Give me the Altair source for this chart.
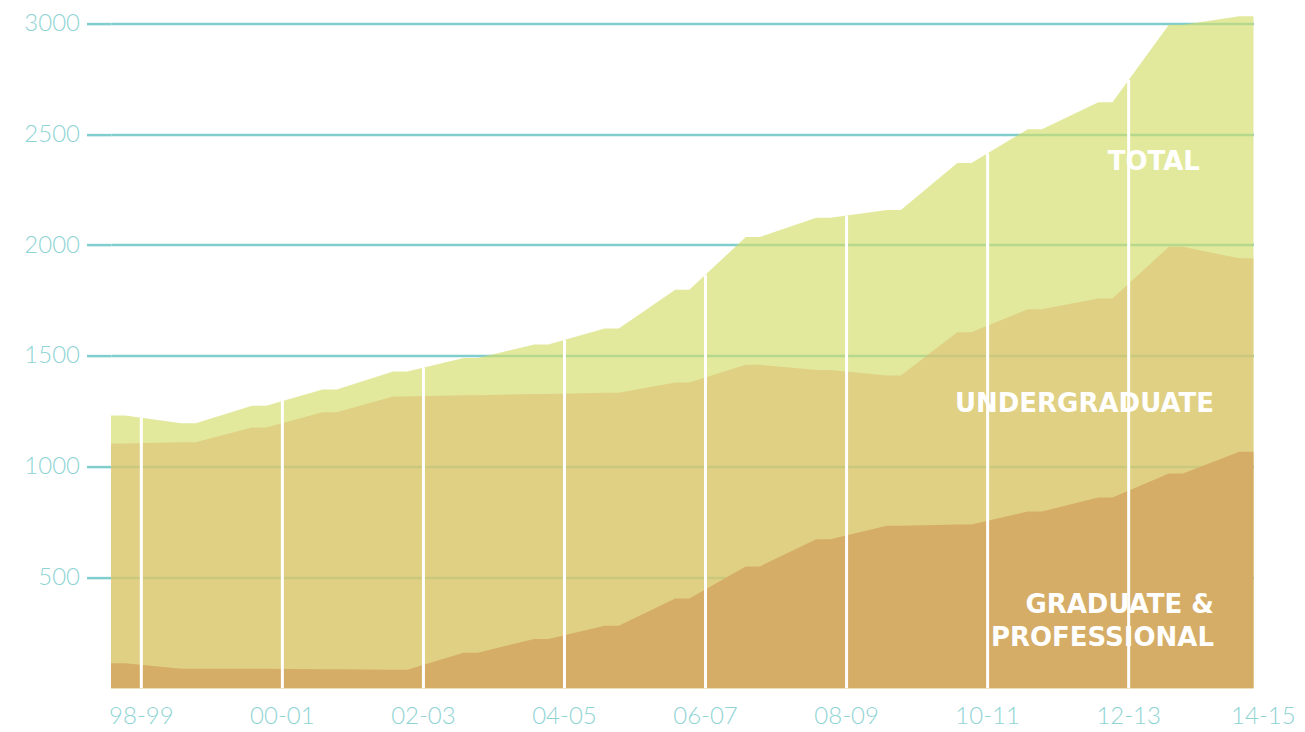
import altair as alt
import numpy as np
import pandas as pd

# ---- data ----
years = ["98-99", "99-00", "00-01", "01-02", "02-03", "03-04", "04-05", "05-06",
         "06-07", "07-08", "08-09", "09-10", "10-11", "11-12", "12-13", "13-14", "14-15"]
total = [1231, 1196, 1275, 1348, 1430, 1490, 1551, 1624, 1798,
         2036, 2123, 2158, 2370, 2523, 2645, 2994, 3032]
undergrad = [1105, 1110, 1177, 1246, 1317, 1322, 1328, 1334, 1380,
             1460, 1436, 1412, 1607, 1710, 1759, 1992, 1940]
grad = [113, 88, 88, 86, 84, 160, 223, 282, 405,
        550, 672, 733, 739, 798, 861, 969, 1067]
y_ticks = [500, 1000, 1500, 2000, 2500, 3000]
annotations = ["TOTAL", "UNDERGRADUATE", "GRADUATE &", "PROFESSIONAL"]
annotation_x = [15.34, 15.54, 15.54, 15.54]
annotation_y = [2377, 1285, 378, 229]

# ---- style ----
PLATEAU = 0.1        # half width of the flat segment drawn for each year
LABEL_OFFSET = 0.33  # year labels / white separators sit a bit right of each year
W, H = 1142.5, 673.7
TEAL = "#80CDCD"
LABEL_TEAL = "#8FD4D4"
X_MIN, X_MAX = -PLATEAU, len(years) - 1 + PLATEAU

rows = []
for i in range(len(years)):
    for d in (-PLATEAU, PLATEAU):
        rows.append({"x": i + d, "total": total[i], "undergrad": undergrad[i],
                     "grad": grad[i]})
df = pd.DataFrame(rows)

sep_x = [i + LABEL_OFFSET for i in range(0, len(years) - 1, 2)]
sep_df = pd.DataFrame({"x": sep_x, "y0": 0,
                       "top": np.interp(sep_x, df["x"], df["total"])})

lab_idx = list(range(0, len(years), 2))
# the last label is kept just past the end of the plot so it stays on the page
lab_df = pd.DataFrame({"x": [min(i + LABEL_OFFSET, X_MAX + 0.14) for i in lab_idx],
                       "text": [years[i] for i in lab_idx]})

ann_df = pd.DataFrame({"x": annotation_x, "y": annotation_y, "text": annotations})

xs = alt.Scale(domain=[X_MIN, X_MAX], nice=False, zero=False)
ys = alt.Scale(domain=[0, 3040], nice=False)
yaxis = alt.Axis(
    values=y_ticks, format="d", grid=True, gridColor=TEAL, gridWidth=2.5,
    ticks=True, tickSize=24.5, tickColor=TEAL, tickWidth=2.5,
    domain=False, labelPadding=7, labelFont="Lato", labelFontSize=24,
    labelFontWeight=300, labelColor=LABEL_TEAL, title=None)

base = alt.Chart(df)

total_area = base.mark_area(color="#D2DD68", opacity=0.65).encode(
    x=alt.X("x:Q", scale=xs, axis=None),
    y=alt.Y("total:Q", scale=ys, axis=yaxis),
)

under_area = base.mark_area(color="#DEB76B", opacity=0.5).encode(
    x=alt.X("x:Q", scale=xs, axis=None),
    y=alt.Y("undergrad:Q", scale=ys, axis=yaxis),
)

grad_area = base.mark_area(color="#D5AD66", opacity=1).encode(
    x=alt.X("x:Q", scale=xs, axis=None),
    y=alt.Y("grad:Q", scale=ys, axis=yaxis),
)

separators = alt.Chart(sep_df).mark_rule(color="white", strokeWidth=3).encode(
    x=alt.X("x:Q", scale=xs, axis=None),
    y=alt.Y("y0:Q", scale=ys, axis=yaxis),
    y2="top:Q",
)

x_labels = alt.Chart(lab_df).mark_text(
    font="Lato", fontSize=24, fontWeight=300, color=LABEL_TEAL,
    baseline="middle", align="center",
).encode(
    x=alt.X("x:Q", scale=xs, axis=None),
    y=alt.value(H + 29),
    text="text:N",
)

ann = alt.Chart(ann_df).mark_text(
    font="DejaVu Sans", fontSize=26, fontWeight="bold", color="white",
    align="right", baseline="middle",
).encode(
    x=alt.X("x:Q", scale=xs, axis=None),
    y=alt.Y("y:Q", scale=ys, axis=yaxis),
    text="text:N",
)

chart = alt.layer(
    total_area, under_area, grad_area, separators, x_labels, ann
).properties(
    width=W, height=H,
    background="white",
    autosize=alt.AutoSizeParams(type="none"),
    padding={"left": 103, "top": 6.6, "right": 43, "bottom": 44},
).configure_view(stroke="transparent", strokeWidth=0)

chart.save("out.html", embed_options={"renderer": "svg", "actions": False})
